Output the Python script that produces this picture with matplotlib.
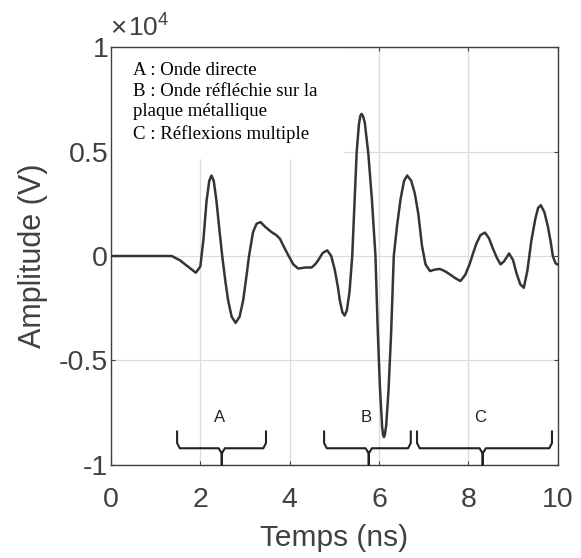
import numpy as np
import matplotlib.pyplot as plt
from matplotlib.ticker import FuncFormatter

plt.rcParams['font.family'] = ['Liberation Sans', 'DejaVu Sans']
plt.rcParams['mathtext.fontset'] = 'custom'
plt.rcParams['mathtext.rm'] = 'Liberation Sans'

# time (ns) and amplitude (x1e4 V)
t = [0.0, 0.5, 1.0, 1.36, 1.54, 1.72, 1.90, 2.00, 2.07, 2.14, 2.20, 2.25, 2.30, 2.36,
     2.43, 2.49, 2.56, 2.62, 2.70, 2.79, 2.88, 2.96, 3.03, 3.09, 3.18, 3.26, 3.35, 3.45,
     3.59, 3.70, 3.78, 3.88, 3.97, 4.08, 4.19, 4.35, 4.49, 4.57, 4.64, 4.74, 4.84, 4.93,
     5.01, 5.08, 5.12, 5.18, 5.23, 5.28, 5.34, 5.40, 5.45, 5.50, 5.55, 5.58, 5.61, 5.64, 5.68, 5.76,
     5.84, 5.92, 5.97, 6.02, 6.07, 6.09, 6.11, 6.13, 6.16, 6.21, 6.27, 6.33, 6.40, 6.48, 6.56, 6.63,
     6.72, 6.80, 6.88, 6.96, 7.04, 7.14, 7.25, 7.36, 7.47, 7.58, 7.70, 7.82, 7.93, 8.03,
     8.10, 8.18, 8.27, 8.37, 8.46, 8.55, 8.64, 8.72, 8.80, 8.91, 9.00, 9.08, 9.16, 9.24,
     9.32, 9.41, 9.50, 9.56, 9.62, 9.70, 9.78, 9.84, 9.89, 9.95, 9.99]
amp = [0, 0, 0, 0, -0.02, -0.05, -0.08, -0.05, 0.08, 0.265, 0.36, 0.385, 0.36, 0.265,
       0.12, 0.0, -0.12, -0.21, -0.29, -0.32, -0.29, -0.21, -0.10, 0.0, 0.115, 0.155, 0.162, 0.14,
       0.115, 0.10, 0.083, 0.04, 0.003, -0.04, -0.06, -0.055, -0.055, -0.04, -0.02, 0.015, 0.027, 0.0,
       -0.067, -0.15, -0.21, -0.27, -0.285, -0.26, -0.17, 0.0, 0.25, 0.50, 0.63, 0.67, 0.68, 0.67, 0.64, 0.49,
       0.27, 0.0, -0.35, -0.63, -0.82, -0.855, -0.866, -0.855, -0.81, -0.65, -0.37, 0.0, 0.14, 0.27, 0.36, 0.385,
       0.36, 0.30, 0.20, 0.05, -0.04, -0.072, -0.065, -0.062, -0.072, -0.087, -0.105, -0.12, -0.09, -0.037,
       0.01, 0.06, 0.10, 0.112, 0.085, 0.035, -0.01, -0.04, -0.025, 0.012, -0.02, -0.085, -0.135, -0.152,
       -0.07, 0.075, 0.18, 0.23, 0.243, 0.21, 0.14, 0.07, 0.0, -0.035, -0.04]
amp = np.array(amp) * 1e4

# braces: label, left, tip, right (ns)
braces = [("A", 1.48, 2.48, 3.47), ("B", 4.77, 5.77, 6.71), ("C", 6.85, 8.32, 9.87)]

legend_txt = ("A : Onde directe\nB : Onde réfléchie sur la\n"
              "plaque métallique\nC : Réflexions multiple")

gray = "#404040"
fig = plt.figure(figsize=(5.81, 5.58), dpi=100)
ax = fig.add_axes([0.191, 0.1667, 0.769, 0.749])

ax.plot(t, amp, color="#353535", lw=1.8, zorder=3, solid_joinstyle="round")

ax.set_xlim(0, 10)
ax.set_ylim(-1e4, 1e4)
ax.set_xticks([0, 2, 4, 6, 8, 10])
ax.set_yticks([-1e4, -0.5e4, 0, 0.5e4, 1e4])
ax.yaxis.set_major_formatter(FuncFormatter(lambda v, p: "%g" % (v / 1e4)))
ax.grid(True, color="#dcdcdc", lw=0.9)
ax.set_axisbelow(True)
ax.tick_params(direction="in", length=3, top=True, right=True, labelsize=20.5,
               colors=gray, labelcolor=gray)
ax.tick_params(axis="x", pad=16)
ax.tick_params(axis="y", pad=2)
for s in ax.spines.values():
    s.set_color(gray)
    s.set_linewidth(1.0)
ax.set_xlabel("Temps (ns)", fontsize=21.5, color=gray, labelpad=8)
ax.set_ylabel("Amplitude (V)", fontsize=22, color=gray, labelpad=8)

fig.text(0.189, 0.935, "\u00d7", fontsize=20, color=gray, ha="left", va="baseline")
fig.text(0.221, 0.937, r"10$^{4}$", fontsize=19, color=gray, ha="left", va="baseline")

# white box behind the legend text
ax.fill_between([0, 5.2], 0.47e4, 1e4, color="white", zorder=2)
ax.text(0.5, 0.93e4, legend_txt, family="Liberation Serif", fontsize=13.5,
        va="top", ha="left", linespacing=1.3, zorder=4)

for lab, l, m, r in braces:
    bx = [l, l, l + 0.06, m - 0.07, m, m, m, m + 0.07, r - 0.06, r, r]
    by = [-0.84, -0.895, -0.92, -0.92, -0.945, -1.0, -0.945, -0.92, -0.92, -0.895, -0.84]
    ax.plot(bx, np.array(by) * 1e4, color="#222222", lw=1.5, zorder=4, clip_on=False)
    ax.text(m - 0.05, -0.81e4, lab, fontsize=12, ha="center", va="bottom", color="#222222")

fig.savefig("out.png", dpi=100)
